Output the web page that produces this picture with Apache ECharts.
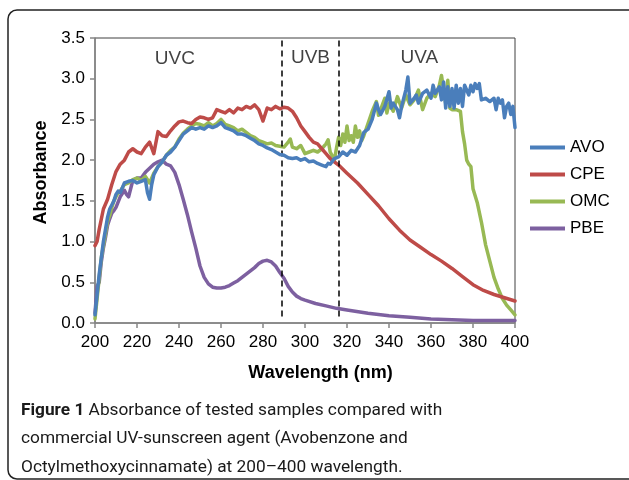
<!DOCTYPE html>
<html><head><meta charset="utf-8">
<script src="https://cdn.jsdelivr.net/npm/echarts@6/dist/echarts.min.js"></script>
<style>html,body{margin:0;padding:0;background:#fff}#c{width:629px;height:480px}</style>
</head><body><div id="c"></div>
<script>
// ---- data ----
const xTicks = [200,220,240,260,280,300,320,340,360,380,400];
const yTicks = [0,0.5,1,1.5,2,2.5,3,3.5];
const seriesNames = ['AVO','CPE','OMC','PBE'];
const regionLabels = ['UVC','UVB','UVA'];
const regionPos = [[238,3.24],[302.6,3.26],[354.5,3.26]];
const dividers = [289,316];

const avoW = [200,201,202,203,204,205,206,207,208,209,210,211,212,213,214,216,218,220,222,224,225,226,227,228,230,232,234,236,238,240,242,244,246,248,250,252,254,256,258,260,262,264,266,268,270,272,274,276,278,280,282,284,286,288,290,292,294,296,298,300,302,304,306,308,310,311,312,314,316,318,320,322,324,326,328,330,332,334,335,336,338,340,341,342,344,345,346,348,349,350,352,353,354,356,358,360,361,362,364,365,366,367,368,369,370,371,372,373,374,375,376,378,379,380,381,382,383,384,386,388,390,391,392,393,394,395,396,397,398,399,400];
const avoA = [0.10,0.35,0.60,0.80,1.00,1.15,1.30,1.40,1.45,1.50,1.58,1.62,1.60,1.66,1.72,1.74,1.75,1.72,1.74,1.76,1.60,1.52,1.70,1.82,1.92,1.98,2.06,2.10,2.16,2.24,2.32,2.36,2.40,2.38,2.40,2.38,2.42,2.40,2.42,2.46,2.40,2.38,2.36,2.32,2.32,2.30,2.27,2.24,2.20,2.18,2.15,2.13,2.10,2.07,2.06,2.03,2.02,2.03,2.00,2.02,1.98,1.99,1.96,1.94,1.92,1.96,1.95,2.02,2.04,2.10,2.06,2.12,2.10,2.18,2.34,2.38,2.50,2.70,2.62,2.56,2.66,2.84,2.64,2.70,2.62,2.52,2.66,2.86,3.02,2.70,2.76,2.80,2.70,2.82,2.86,2.76,2.92,2.82,2.90,2.74,2.96,2.64,2.90,2.66,2.88,2.64,2.92,2.70,2.88,2.66,2.92,2.80,2.92,2.84,2.94,2.88,2.94,2.74,2.76,2.72,2.76,2.62,2.76,2.70,2.74,2.52,2.66,2.70,2.56,2.66,2.40];

const cpeW = [200,201,202,204,206,208,210,212,214,216,218,220,222,224,226,228,230,232,234,236,238,240,242,244,246,248,250,252,254,256,258,260,262,264,266,268,270,272,274,276,278,280,282,284,286,288,290,292,294,296,298,300,302,304,306,308,310,312,314,316,320,325,330,335,340,345,350,355,360,365,370,375,380,385,390,395,400];
const cpeA = [0.95,1.00,1.15,1.40,1.52,1.70,1.86,1.95,2.00,2.10,2.14,2.10,2.08,2.16,2.22,2.08,2.35,2.30,2.29,2.36,2.42,2.47,2.48,2.46,2.45,2.50,2.53,2.52,2.50,2.52,2.62,2.60,2.58,2.62,2.58,2.64,2.62,2.66,2.64,2.68,2.62,2.48,2.64,2.62,2.66,2.63,2.65,2.64,2.60,2.52,2.42,2.35,2.28,2.22,2.20,2.14,2.08,2.02,1.98,1.94,1.84,1.72,1.58,1.44,1.28,1.14,1.02,0.93,0.84,0.76,0.67,0.57,0.47,0.40,0.35,0.31,0.27];

const omcW = [200,201,202,203,204,205,206,207,208,209,210,211,212,213,214,216,218,220,222,224,226,228,230,232,234,236,238,240,242,244,246,248,250,252,254,256,258,260,262,264,266,268,270,272,274,276,278,280,282,284,286,288,290,292,293,294,296,298,300,302,304,306,308,310,311,312,314,315,316,317,318,319,320,321,322,323,324,325,326,327,328,330,332,334,335,336,338,339,340,342,344,346,348,350,352,354,356,358,360,362,364,365,366,367,368,369,370,372,374,375,376,377,378,379,380,382,384,386,388,390,392,394,396,398,400];
const omcA = [0.05,0.30,0.55,0.80,0.95,1.10,1.25,1.32,1.42,1.50,1.55,1.60,1.62,1.66,1.70,1.72,1.76,1.78,1.75,1.80,1.72,1.84,1.92,1.98,2.06,2.12,2.16,2.26,2.33,2.38,2.42,2.45,2.44,2.42,2.46,2.42,2.45,2.50,2.44,2.42,2.40,2.36,2.38,2.34,2.30,2.28,2.24,2.22,2.20,2.21,2.18,2.17,2.16,2.22,2.26,2.16,2.14,2.18,2.08,2.10,2.12,2.10,2.14,2.20,2.25,2.10,2.00,2.15,2.28,2.18,2.32,2.22,2.42,2.24,2.30,2.22,2.42,2.28,2.36,2.24,2.30,2.45,2.60,2.72,2.55,2.62,2.76,2.58,2.70,2.60,2.78,2.64,2.80,2.68,2.74,2.86,2.62,2.76,2.82,2.78,2.92,3.04,2.86,2.70,2.98,2.64,2.62,2.62,2.60,2.35,2.20,2.00,1.95,1.92,1.65,1.48,1.24,0.96,0.76,0.56,0.42,0.30,0.22,0.16,0.10];

const pbeW = [200,201,202,203,204,205,206,207,208,209,210,212,214,215,216,218,220,222,224,226,228,230,232,234,236,238,240,242,244,246,248,250,252,254,256,258,260,262,264,266,268,270,272,274,276,278,280,282,284,286,288,290,292,294,296,298,300,305,310,315,320,330,340,350,360,370,380,390,400];
const pbeA = [0.12,0.45,0.50,0.75,0.92,1.05,1.20,1.28,1.35,1.38,1.42,1.55,1.63,1.58,1.55,1.75,1.78,1.78,1.85,1.90,1.95,1.98,2.00,1.95,1.93,1.85,1.70,1.52,1.33,1.12,0.92,0.70,0.56,0.48,0.44,0.43,0.43,0.44,0.46,0.49,0.52,0.56,0.60,0.64,0.68,0.73,0.76,0.77,0.75,0.70,0.62,0.55,0.45,0.38,0.33,0.30,0.28,0.24,0.21,0.18,0.16,0.12,0.09,0.07,0.05,0.04,0.03,0.03,0.03];

const colors = ['#4a7ebb','#be4b48','#98b954','#7d60a0'];
const FONT = 'Liberation Sans, Arial, sans-serif';

function zip(w,a){return w.map((v,i)=>[v,a[i]]);}
const dataSets = [zip(avoW,avoA),zip(cpeW,cpeA),zip(omcW,omcA),zip(pbeW,pbeA)];

const series = seriesNames.map((n,i)=>({
  name:n,type:'line',data:dataSets[i],symbol:'none',smooth:false,
  lineStyle:{width:3.5,color:colors[i],join:'round',cap:'round'},itemStyle:{color:colors[i]},z:2+(3-i)
}));
series[0].markLine = {
  silent:true,symbol:['none','none'],label:{show:false},animation:false,
  lineStyle:{color:'#000',type:[6,4],width:1.5},
  data: dividers.map(d=>[{coord:[d,3.47]},{coord:[d,0.08]}])
};
series.push({
  type:'scatter',symbolSize:0,silent:true,
  data: regionPos.map((p,i)=>({value:p,name:regionLabels[i]})),
  label:{show:true,position:'inside',formatter:p=>p.name,fontSize:19,color:'#111',fontFamily:FONT},
  z:10
});

const chart = echarts.init(document.getElementById('c'),null,{renderer:'canvas'});
chart.setOption({
  animation:false,
  backgroundColor:'#fff',
  color:colors,
  grid:{left:95,right:114,top:38,bottom:157,show:true,borderColor:'#404040',borderWidth:1,containLabel:false},
  xAxis:{type:'value',min:200,max:400,interval:20,
    name:'Wavelength (nm)',nameLocation:'middle',nameGap:41,
    nameTextStyle:{fontSize:18,fontWeight:'bold',color:'#000',fontFamily:FONT,padding:[0,0,0,31]},
    axisLine:{show:true,lineStyle:{color:'#868686',width:1.5}},
    axisTick:{show:true,inside:false,length:5,lineStyle:{color:'#868686',width:1.5}},
    axisLabel:{fontSize:17,color:'#000',margin:11,fontFamily:FONT},
    splitLine:{show:false}},
  yAxis:{type:'value',min:0,max:3.5,interval:0.5,
    name:'Absorbance',nameLocation:'middle',nameGap:41,
    nameTextStyle:{fontSize:18,fontWeight:'bold',color:'#000',fontFamily:FONT,padding:[0,0,0,16]},
    axisLine:{show:true,lineStyle:{color:'#868686',width:1.5}},
    axisTick:{show:true,inside:false,length:5,lineStyle:{color:'#868686',width:1.5}},
    axisLabel:{fontSize:17,color:'#000',margin:10,fontFamily:FONT,formatter:v=>v.toFixed(1)},
    splitLine:{show:false}},
  legend:{data:seriesNames,orient:'vertical',left:525,top:134,itemWidth:35,itemHeight:4,itemGap:10,
    icon:'rect',
    textStyle:{fontSize:17,color:'#000',fontFamily:FONT}},
  graphic:[
    {type:'rect',shape:{x:8,y:10,width:700,height:469,r:9},style:{fill:'none',stroke:'#222',lineWidth:1.5},silent:true},
    {type:'text',left:21,top:396,style:{
      text:'{b|Figure 1} Absorbance of tested samples compared with\ncommercial UV-sunscreen agent (Avobenzone and\nOctylmethoxycinnamate) at 200–400 wavelength.',
      fontSize:17.3,lineHeight:28.5,fontFamily:'Roboto, sans-serif',fill:'#1a1a1a',
      rich:{b:{fontWeight:'bold',fontSize:17.3,fontFamily:'Roboto, sans-serif',fill:'#1a1a1a'}}}}
  ],
  series:series
});
</script></body></html>
